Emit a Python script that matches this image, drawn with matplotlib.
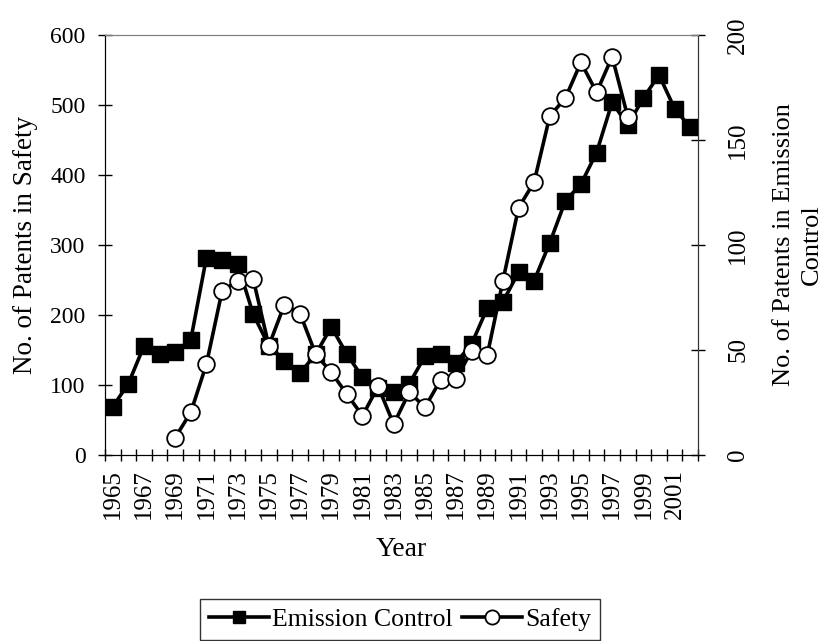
import matplotlib
matplotlib.use("Agg")
import matplotlib.pyplot as plt
import numpy as np

plt.rcParams['font.family'] = ['Liberation Serif', 'DejaVu Serif']
plt.rcParams['font.size'] = 17

years = list(range(1965, 2003))
emission = [23, 34, 52, 48, 49, 55, 94, 93, 91, 67, 52, 45, 39, 48, 61, 48,
            37, 32, 30, 34, 47, 48, 44, 53, 70, 73, 87, 83, 101, 121, 129,
            144, 168, 157, 170, 181, 165, 156]
safety = [np.nan] * 4 + [25, 61, 130, 234, 249, 251, 156, 215, 202, 144, 118,
          87, 56, 98, 44, 90, 68, 107, 109, 149, 143, 249, 353, 390, 484,
          510, 561, 518, 569, 483] + [np.nan] * 4

x = np.arange(len(years))

fig = plt.figure(figsize=(8.29, 6.41), dpi=100)
ax = fig.add_axes([105 / 829, 1 - 455 / 641, 593 / 829, 420 / 641])
ax2 = ax.twinx()
ax.set_zorder(ax2.get_zorder() + 1)
ax.patch.set_visible(False)

l2, = ax2.plot(x, emission, color='black', lw=2.6, marker='s', ms=11,
               mfc='black', mec='black', label='Emission Control')
l1, = ax.plot(x, safety, color='black', lw=2.6, marker='o', ms=12,
              mfc='white', mec='black', mew=1.3, label='Safety')

ax.set_xlim(-0.5, len(years) - 0.5)
ax.set_ylim(0, 600)
ax2.set_ylim(0, 200)
ax.set_yticks(range(0, 601, 100))
ax2.set_yticks(range(0, 201, 50))

# category boundaries as ticks, labels every other year at centres
ax.set_xticks(np.arange(-0.5, len(years), 1))
ax.set_xticklabels([])
ax.set_xticks(x[::2], minor=True)
ax.set_xticklabels([str(y) for y in years[::2]], minor=True, rotation=90)
ax.tick_params(axis='x', which='major', direction='inout', length=9, width=1)
ax.tick_params(axis='x', which='minor', length=0, pad=10, labelsize=18)
ax.tick_params(axis='y', direction='inout', length=10, width=1, pad=9)
ax2.tick_params(axis='y', direction='inout', length=10, width=1, pad=16,
                labelsize=18)
for t in ax2.get_yticklabels():
    t.set_rotation(90)
    t.set_va('center')

for a in (ax, ax2):
    a.spines['top'].set_color('#808080')
    a.spines['left'].set_color('black')
    a.spines['right'].set_color('#333333')

ax.set_xlabel('Year', labelpad=13, fontsize=20)
ax.set_ylabel('No. of Patents in Safety', labelpad=9, fontsize=19.5)
ax2.set_ylabel('No. of Patents in Emission\nControl', rotation=90,
               labelpad=17, linespacing=1.35, fontsize=19)

leg = fig.legend([l2, l1], ['Emission Control', 'Safety'], loc='center',
                 bbox_to_anchor=(400 / 829, 0.034), ncol=2, frameon=True,
                 fancybox=False, edgecolor='black', markerscale=0.85,
                 fontsize=18.5, handlelength=2.33, handletextpad=0.12,
                 columnspacing=0.35, borderpad=0.35)
leg.get_frame().set_linewidth(1)

fig.savefig('out.png', dpi=100)
